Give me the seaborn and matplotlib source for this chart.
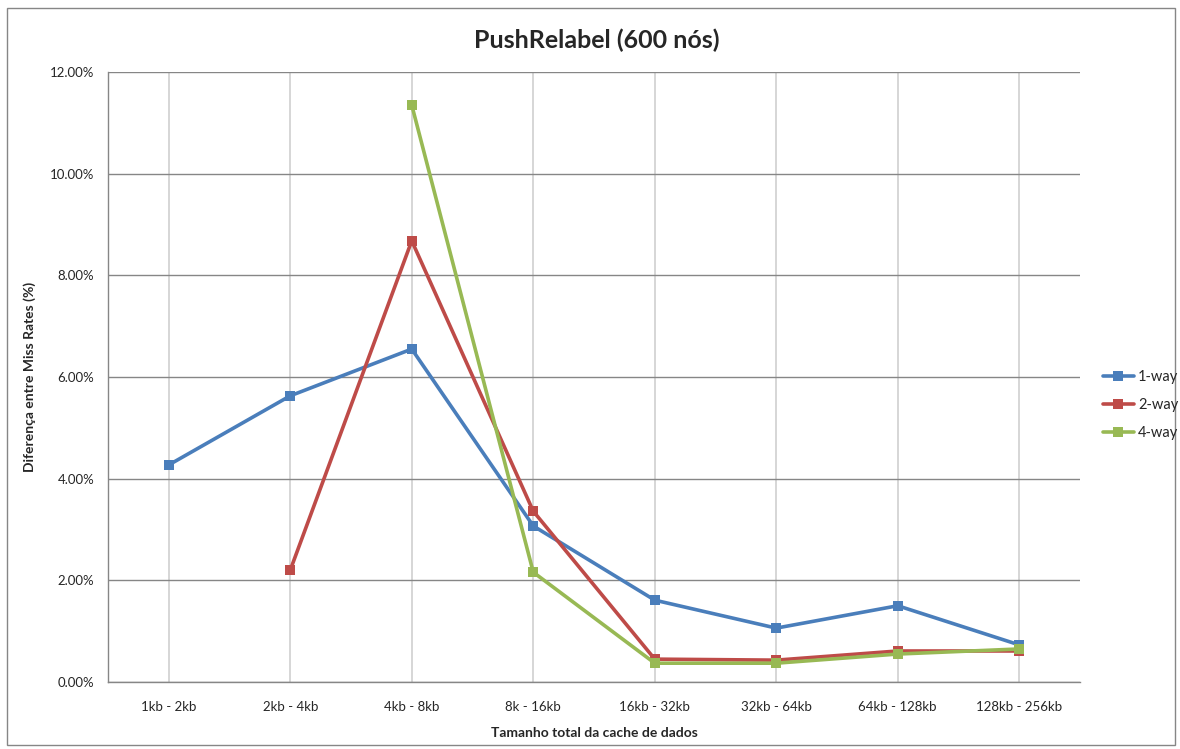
import numpy as np
import pandas as pd
import matplotlib
matplotlib.use("Agg")
import matplotlib.pyplot as plt
from matplotlib.patches import Rectangle
from matplotlib.lines import Line2D
from matplotlib.ticker import FuncFormatter, MultipleLocator
import seaborn as sns

categories = ["1kb - 2kb", "2kb - 4kb", "4kb - 8kb", "8k - 16kb",
              "16kb - 32kb", "32kb - 64kb", "64kb - 128kb", "128kb - 256kb"]
one_way = [4.27, 5.63, 6.55, 3.07, 1.61, 1.06, 1.50, 0.73]
two_way = [np.nan, 2.20, 8.68, 3.36, 0.45, 0.43, 0.61, 0.61]
four_way = [np.nan, np.nan, 11.35, 2.16, 0.37, 0.37, 0.55, 0.65]
series_names = ["1-way", "2-way", "4-way"]
colors = ["#4a7ebb", "#be4b48", "#98b954"]

rows = []
for name, vals in zip(series_names, [one_way, two_way, four_way]):
    for i, v in enumerate(vals):
        rows.append({"pos": i, "value": v, "serie": name})
df = pd.DataFrame(rows).dropna()

sns.set_style("white")
plt.rcParams["font.family"] = ["Lato", "DejaVu Sans"]

fig = plt.figure(figsize=(11.8, 7.49), dpi=100)
ax = fig.add_axes([108 / 1180, 1 - 682 / 749, 972 / 1180, 610 / 749])

sns.lineplot(data=df, x="pos", y="value", hue="serie", palette=colors,
             hue_order=series_names, marker="s", markersize=7,
             markeredgewidth=0, linewidth=2.6, dashes=False, ax=ax,
             legend=False, zorder=3)

ax.set_xlim(-0.5, len(categories) - 0.5)
ax.set_ylim(0, 12)
ax.yaxis.set_major_locator(MultipleLocator(2))
ax.yaxis.set_major_formatter(FuncFormatter(lambda v, p: f"{v:.2f}%"))

# category labels centred, tick marks on the category boundaries
ax.set_xticks(range(len(categories)))
ax.set_xticklabels(categories, fontsize=9.5)
ax.set_xticks(np.arange(-0.5, len(categories)), minor=True)
ax.tick_params(axis="x", which="major", length=0, pad=14)
ax.tick_params(axis="x", which="minor", length=6, width=1, color="#868686",
               direction="out")
ax.tick_params(axis="y", length=6, width=1, color="#868686", direction="out",
               labelsize=9.5, pad=4)

ax.grid(axis="y", color="#868686", linewidth=1)
ax.grid(axis="x", which="major", color="#d0d0d0", linewidth=1.2)
ax.set_axisbelow(True)
for side in ["top", "right"]:
    ax.spines[side].set_visible(False)
for side in ["left", "bottom"]:
    ax.spines[side].set_color("#868686")
    ax.spines[side].set_linewidth(1)

ax.set_xlabel("Tamanho total da cache de dados", fontsize=10,
              fontweight="bold", labelpad=10)
ax.set_ylabel("Diferença entre Miss Rates (%)", fontsize=10,
              fontweight="bold", labelpad=10)

fig.text(597 / 1180, 1 - 40 / 749, "PushRelabel (600 nós)", ha="center",
         va="center", fontsize=18, fontweight="bold")

handles = [Line2D([], [], color=c, marker="s", markersize=7, linewidth=2.6,
                  markeredgewidth=0) for c in colors]
fig.legend(handles, series_names, loc="center left",
           bbox_to_anchor=(1100 / 1180, 1 - 405 / 749), frameon=False,
           fontsize=10.5, handlelength=2.1, handletextpad=0.3,
           labelspacing=0.95, borderaxespad=0, borderpad=0.2)

fig.patches.append(Rectangle((7 / 1180, 4 / 749), 1168 / 1180, 737 / 749,
                             transform=fig.transFigure, fill=False,
                             edgecolor="#868686", linewidth=1))

fig.savefig("out.png", dpi=100, facecolor="white")
